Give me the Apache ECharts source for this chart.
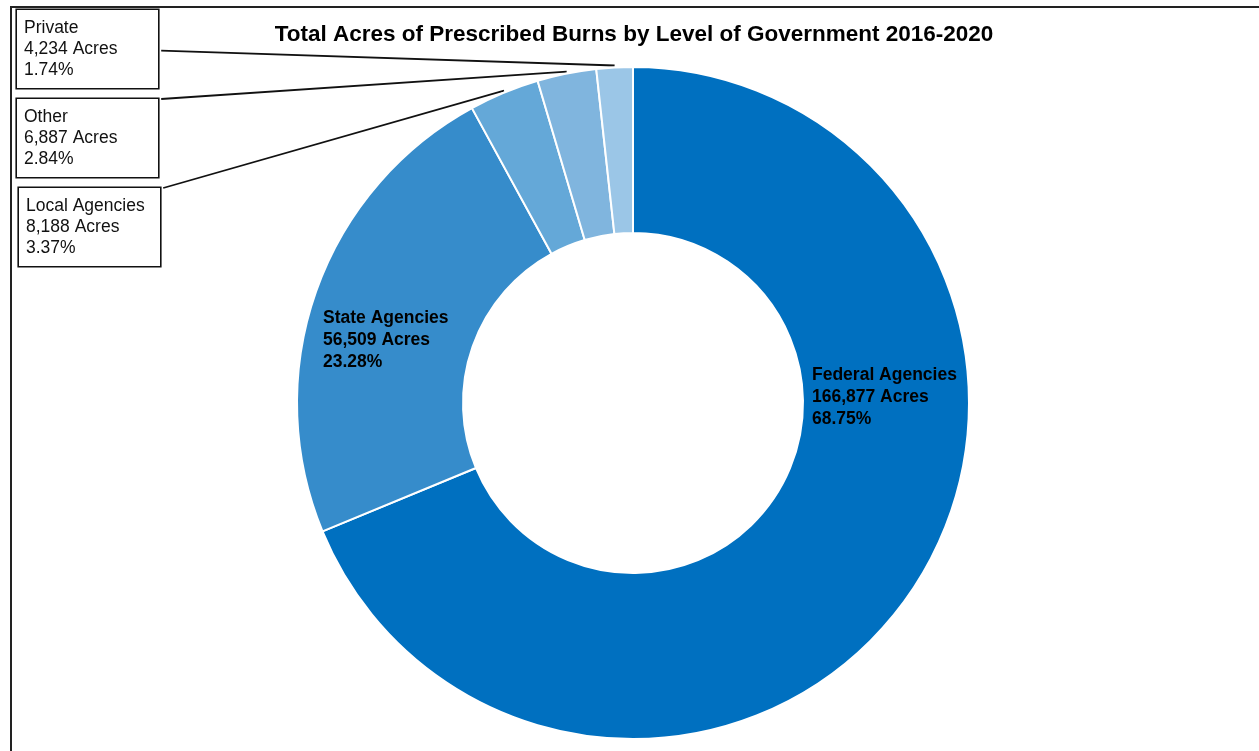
<!DOCTYPE html>
<html>
<head>
<meta charset="utf-8">
<script src="https://cdn.jsdelivr.net/npm/echarts@6/dist/echarts.min.js"></script>
<style>
html,body{margin:0;padding:0;background:#fff;}
#chart{width:1259px;height:751px;}
</style>
</head>
<body>
<div id="chart"></div>
<script>
const categories = ['Federal Agencies', 'State Agencies', 'Local Agencies', 'Other', 'Private'];
const acres = [166877, 56509, 8188, 6887, 4234];
const percentLabels = ['68.75%', '23.28%', '3.37%', '2.84%', '1.74%'];
const colors = ['#0070C0', '#368CCB', '#64A8D8', '#80B5DE', '#9BC6E7'];
const titleText = 'Total Acres of Prescribed Burns by Level of Government 2016-2020';

// label placement (layout only)
const labelPlacement = {
  'Federal Agencies': { x: 812, y: 364, boxed: false },
  'State Agencies':   { x: 323, y: 307, boxed: false },
  'Local Agencies':   { x: 19,  y: 188, boxed: true },
  'Other':            { x: 17,  y: 99,  boxed: true },
  'Private':          { x: 17,  y: 10,  boxed: true }
};

const fmt = n => n.toLocaleString('en-US');

const data = categories.map((name, i) => {
  const boxed = labelPlacement[name].boxed;
  return {
    name: name,
    value: acres[i],
    itemStyle: { color: colors[i] },
    label: boxed ? {
      show: true,
      position: 'outside',
      fontFamily: 'Liberation Sans, Arial, sans-serif',
      fontSize: 17.5,
      lineHeight: 21,
      color: '#111',
      align: 'left',
      width: 127,
      padding: [8, 7, 7, 7],
      borderColor: '#111',
      borderWidth: 1.6,
      backgroundColor: '#fff'
    } : {
      show: true,
      position: 'inside',
      fontFamily: 'Liberation Sans, Arial, sans-serif',
      fontSize: 17.5,
      fontWeight: 'bold',
      lineHeight: 22,
      color: '#000',
      align: 'left'
    },
    labelLine: { show: boxed, length: 10, length2: 10, lineStyle: { color: '#111', width: 1.8 } }
  };
});

const chart = echarts.init(document.getElementById('chart'), null, { renderer: 'canvas' });

chart.setOption({
  animation: false,
  backgroundColor: '#fff',
  title: {
    text: titleText,
    left: 629,
    textAlign: 'center',
    top: 18,
    textStyle: {
      fontFamily: 'Liberation Sans, Arial, sans-serif',
      fontSize: 22.5,
      fontWeight: 'bold',
      color: '#000'
    }
  },
  graphic: [{
    type: 'rect',
    shape: { x: 11, y: 7, width: 1400, height: 900 },
    style: { fill: 'none', stroke: '#222', lineWidth: 2 },
    silent: true,
    z: -1
  }],
  series: [{
    type: 'pie',
    center: [633, 403],
    radius: [170, 336],
    startAngle: 90,
    clockwise: true,
    avoidLabelOverlap: false,
    itemStyle: { borderColor: '#fff', borderWidth: 2 },
    label: {
      formatter: p => p.name + '\n' + fmt(p.value) + ' Acres\n' + percentLabels[p.dataIndex]
    },
    labelLayout: function (params) {
      const name = categories[params.dataIndex];
      const pl = labelPlacement[name];
      const w = params.labelRect.width;
      const h = params.labelRect.height;
      const out = { x: pl.x, y: pl.y, align: 'left', verticalAlign: 'top' };
      if (pl.boxed && params.labelLinePoints) {
        const a = params.labelLinePoints[0];
        const right = pl.x + w;
        let ey;
        if (a[1] >= pl.y && a[1] <= pl.y + h) ey = pl.y + h / 2;
        else if (a[1] < pl.y) ey = pl.y;
        else ey = pl.y + h;
        out.labelLinePoints = [[a[0], a[1] - 2], [right, ey]];
      }
      return out;
    },
    data: data
  }]
});
</script>
</body>
</html>
